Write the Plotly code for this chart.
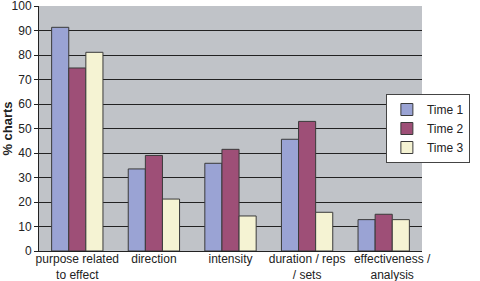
import plotly.graph_objects as go

categories = ["purpose related<br>to effect", "direction", "intensity",
              "duration / reps<br>/ sets", "effectiveness /<br>analysis"]
series_names = ["Time 1", "Time 2", "Time 3"]
time1 = [91.3, 33.5, 35.8, 45.6, 12.8]
time2 = [74.7, 39.0, 41.5, 52.9, 15.0]
time3 = [81.1, 21.2, 14.3, 15.8, 12.8]
y_ticks = [0, 10, 20, 30, 40, 50, 60, 70, 80, 90, 100]

colors = ["#9aa3d4", "#9e4f77", "#f5f3d3"]
values = [time1, time2, time3]

# category slots on a numeric axis (labels drawn as tick text)
positions = list(range(len(categories)))
# the last label sits slightly right of its group in the reference
label_offsets = [0, 0, 0, 0, 0.11]
label_positions = [p + o for p, o in zip(positions, label_offsets)]

fig = go.Figure()
for name, vals, col in zip(series_names, values, colors):
    fig.add_trace(go.Bar(
        x=positions, y=vals, name=name,
        marker=dict(color=col, line=dict(color="#3a3a3a", width=1)),
    ))

font = "Liberation Sans, Arial, Helvetica, sans-serif"
fig.update_layout(
    width=480, height=281,
    margin=dict(l=39, r=58, t=6, b=30, autoexpand=False),
    paper_bgcolor="white",
    plot_bgcolor="#c0c3c8",
    barmode="group",
    bargap=0.33, bargroupgap=0,
    font=dict(family=font, size=12, color="#222222"),
    showlegend=True,
    legend=dict(
        x=1.125, xanchor="right", y=0.5, yanchor="middle",
        bgcolor="white", bordercolor="#444444", borderwidth=1,
        font=dict(size=12, color="#222222"),
        itemwidth=30, tracegroupgap=0,
    ),
    xaxis=dict(
        range=[-0.5, len(categories) - 0.5],
        tickmode="array", tickvals=label_positions, ticktext=categories,
        showline=True, linecolor="#222222", linewidth=1,
        showgrid=False, zeroline=False, ticks="", tickangle=0,
        automargin=False, tickfont=dict(size=12), ticklabelstandoff=-3,
    ),
    yaxis=dict(
        range=[0, 100], tickvals=y_ticks,
        showline=True, linecolor="#222222", linewidth=1,
        showgrid=True, gridcolor="#222222", gridwidth=1,
        ticks="outside", ticklen=4, tickcolor="#222222",
        tickfont=dict(size=12), automargin=False,
        ticklabeloverflow="allow",
        title=dict(text="<b>% charts</b>", font=dict(size=13), standoff=0),
        zeroline=False,
    ),
)

fig.write_html("out.html", config={"displayModeBar": False},
               post_script="document.body.style.margin='0';")
